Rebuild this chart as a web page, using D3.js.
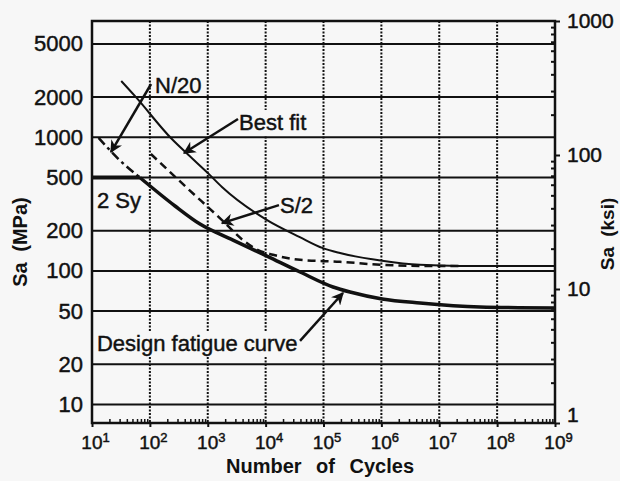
<!DOCTYPE html>
<html>
<head>
<meta charset="utf-8">
<script src="https://cdn.jsdelivr.net/npm/d3@7"></script>
<style>
  body { margin: 0; background: #f7f7f7; }
  svg { display: block; font-family: "Liberation Sans", Arial, Helvetica, sans-serif; }
</style>
</head>
<body>
<div id="chart"></div>
<script>
// Tick values of the three axes
const cycleTicks = [1e1, 1e2, 1e3, 1e4, 1e5, 1e6, 1e7, 1e8, 1e9];
const mpaTicks = [10, 20, 50, 100, 200, 500, 1000, 2000, 5000];
const ksiTicks = [1, 10, 100, 1000];

// Curves: [cycles, Sa in MPa]
const bestFit = [[32, 2640], [55, 2040], [240, 970], [460, 740], [1050, 530], [1760, 425],
  [10600, 240], [39000, 179], [98000, 148], [193000, 136], [1.03e6, 119], [4.6e6, 111],
  [2.3e7, 109], [1e9, 109]];
const stressOverTwo = [[104, 750], [421, 425], [1760, 240], [4060, 170], [7400, 143],
  [13400, 132], [39300, 121], [193000, 117], [1.03e6, 111], [4.65e6, 109], [2.3e7, 109]];
const cyclesOverTwenty = [[13, 990], [30, 675], [67, 500]];
const twoSy = [[10, 500], [67, 500]];
const designCurve = [[67, 500], [272, 306], [735, 224], [2730, 170], [10570, 129],
  [39300, 98.1], [146000, 75.8], [287000, 69.5], [1.03e6, 61.7], [4.65e6, 57.5],
  [5.06e7, 53.7], [1e9, 52.8]];

// Annotation texts
const labelTexts = ["N/20", "Best fit", "S/2", "2 Sy", "Design fatigue curve"];

const width = 620, height = 481;
const margin = {top: 21, right: 65, bottom: 58, left: 92};
const ink = "#111";

const svg = d3.select("#chart").append("svg")
    .attr("width", width)
    .attr("height", height);

// Arrow head used by the annotations
svg.append("defs").append("marker")
    .attr("id", "arrow")
    .attr("viewBox", "0 0 10 10")
    .attr("refX", 9).attr("refY", 5)
    .attr("markerWidth", 5).attr("markerHeight", 5)
    .attr("orient", "auto")
  .append("path")
    .attr("d", "M0,0 L10,5 L0,10 L3,5 z")
    .attr("fill", ink);

// Scales: cycles (log), stress in MPa (log) and in ksi on the right
const x = d3.scaleLog().domain([10, 1e9]).range([margin.left, width - margin.right]);
const y = d3.scaleLog().domain([7.27, 7422]).range([height - margin.bottom, margin.top]);
const yKsi = d3.scaleLog().domain([1, 1000]).range([height - margin.bottom, margin.top]);

const [x0, x1] = x.range();
const [yBottom, yTop] = y.range();

// Scanned text looks heavier, so give labels a thin outline
const heavy = sel => sel.attr("fill", ink).attr("stroke", ink).attr("stroke-width", 0.45);

// Vertical dotted grid lines at each decade
svg.append("g").selectAll("line")
  .data(cycleTicks.slice(1, -1))
  .join("line")
    .attr("x1", d => x(d)).attr("x2", d => x(d))
    .attr("y1", yTop).attr("y2", yBottom)
    .attr("stroke", ink)
    .attr("stroke-width", 2)
    .attr("stroke-dasharray", "2,1.5");

// Layer for label backgrounds (they break the dotted lines)
const bgLayer = svg.append("g");

// Horizontal grid lines
svg.append("g").selectAll("line")
  .data(mpaTicks)
  .join("line")
    .attr("x1", x0).attr("x2", x1)
    .attr("y1", d => y(d)).attr("y2", d => y(d))
    .attr("stroke", ink)
    .attr("stroke-width", 2);

// Frame
svg.append("rect")
    .attr("x", x0).attr("y", yTop)
    .attr("width", x1 - x0).attr("height", yBottom - yTop)
    .attr("fill", "none")
    .attr("stroke", ink)
    .attr("stroke-width", 2.5);

// Curves
const smooth = d3.line().x(d => x(d[0])).y(d => y(d[1])).curve(d3.curveMonotoneX);
const straight = d3.line().x(d => x(d[0])).y(d => y(d[1]));

svg.append("path").attr("d", smooth(bestFit))
    .attr("fill", "none").attr("stroke", ink).attr("stroke-width", 2);
svg.append("path").attr("d", smooth(stressOverTwo))
    .attr("fill", "none").attr("stroke", ink).attr("stroke-width", 2.5)
    .attr("stroke-dasharray", "8,5");
svg.append("path").attr("d", smooth(cyclesOverTwenty))
    .attr("fill", "none").attr("stroke", ink).attr("stroke-width", 2.5)
    .attr("stroke-dasharray", "9,4,3,4");
svg.append("path").attr("d", straight(twoSy))
    .attr("fill", "none").attr("stroke", ink).attr("stroke-width", 4);
svg.append("path").attr("d", smooth(designCurve))
    .attr("fill", "none").attr("stroke", ink).attr("stroke-width", 3.5);

// Bottom axis: major ticks with 10^n labels, minor ticks inward
const minorCycles = [];
cycleTicks.slice(0, -1).forEach(d => { for (let k = 2; k <= 9; k++) minorCycles.push(d * k); });

svg.append("g")
    .attr("transform", `translate(0,${yBottom})`)
    .call(d3.axisBottom(x).tickValues(minorCycles).tickSize(-4).tickFormat(""))
    .call(g => g.select(".domain").remove())
    .call(g => g.selectAll("line").attr("stroke", ink).attr("stroke-width", 1.5));

svg.append("g")
    .attr("transform", `translate(0,${yBottom})`)
    .call(d3.axisBottom(x).tickValues(cycleTicks).tickSize(4).tickPadding(9).tickFormat(() => ""))
    .call(g => g.select(".domain").remove())
    .call(g => g.selectAll("line").attr("stroke", ink).attr("stroke-width", 2))
    .call(g => g.selectAll(".tick text")
        .attr("font-size", 19).attr("dx", 3)
        .call(heavy)
        .each(function(d) {
            const t = d3.select(this);
            t.append("tspan").text("10");
            t.append("tspan").attr("dy", -7).attr("font-size", 13).text(Math.round(Math.log10(d)));
        }));

// Left axis labels (MPa)
svg.append("g")
    .attr("transform", `translate(${x0},0)`)
    .call(d3.axisLeft(y).tickValues(mpaTicks).tickSize(0).tickPadding(9).tickFormat(d3.format("d")))
    .call(g => g.select(".domain").remove())
    .call(g => g.selectAll("text").attr("font-size", 22).call(heavy));

// Right axis (ksi): minor ticks inward, major ticks outward
const minorKsi = [];
ksiTicks.slice(0, -1).forEach(d => { for (let k = 2; k <= 9; k++) minorKsi.push(d * k); });

svg.append("g")
    .attr("transform", `translate(${x1},0)`)
    .call(d3.axisRight(yKsi).tickValues(minorKsi).tickSize(-4).tickFormat(""))
    .call(g => g.select(".domain").remove())
    .call(g => g.selectAll("line").attr("stroke", ink).attr("stroke-width", 2));

svg.append("g")
    .attr("transform", `translate(${x1},0)`)
    .call(d3.axisRight(yKsi).tickValues(ksiTicks).tickSize(5).tickPadding(7).tickFormat(d3.format("d")))
    .call(g => g.select(".domain").remove())
    .call(g => g.selectAll("line").attr("stroke", ink).attr("stroke-width", 2))
    .call(g => g.selectAll("text").attr("font-size", 21).call(heavy)
        .attr("dy", d => d === 1 ? "-0.05em" : "0.32em"));

// Axis titles
svg.append("text")
    .attr("transform", `translate(27,${(yTop + yBottom) / 2 + 20}) rotate(-90)`)
    .attr("text-anchor", "middle")
    .attr("font-size", 20).attr("font-weight", "bold")
    .style("word-spacing", "5px")
    .attr("fill", ink)
    .text("Sa (MPa)");

svg.append("text")
    .attr("transform", `translate(614,${(yTop + yBottom) / 2 + 12}) rotate(-90)`)
    .attr("text-anchor", "middle")
    .attr("font-size", 19).attr("font-weight", "bold")
    .style("word-spacing", "5px")
    .attr("fill", ink)
    .text("Sa (ksi)");

svg.append("text")
    .attr("x", 320).attr("y", 473)
    .attr("text-anchor", "middle")
    .attr("font-size", 20).attr("font-weight", "bold")
    .style("word-spacing", "9px")
    .attr("fill", ink)
    .text("Number of Cycles");

// Annotations: text position and arrow in data coordinates [cycles, MPa]
const annotations = [
  {text: labelTexts[0], at: [123, 2146], from: [105, 2506], to: [21.3, 776]},
  {text: labelTexts[1], at: [3470, 1134], from: [3332, 1371], to: [389, 763]},
  {text: labelTexts[2], at: [17700, 271], from: [17000, 311], to: [1762, 228]},
  {text: labelTexts[3], at: [12.2, 296]},
  {text: labelTexts[4], at: [12.2, 25.1], from: [39300, 29.9], to: [217000, 68.3]}
];

annotations.filter(a => a.from).forEach(a => {
    svg.append("line")
        .attr("x1", x(a.from[0])).attr("y1", y(a.from[1]))
        .attr("x2", x(a.to[0])).attr("y2", y(a.to[1]))
        .attr("stroke", ink).attr("stroke-width", 2.5)
        .attr("marker-end", "url(#arrow)");
});

annotations.forEach(a => {
    const t = svg.append("text")
        .attr("x", x(a.at[0])).attr("y", y(a.at[1]))
        .attr("font-size", 22)
        .call(heavy)
        .text(a.text);
    const b = t.node().getBBox();
    bgLayer.append("rect")
        .attr("x", b.x - 1).attr("y", b.y)
        .attr("width", b.width + 2).attr("height", b.height)
        .attr("fill", "#f7f7f7");
});
</script>
</body>
</html>
